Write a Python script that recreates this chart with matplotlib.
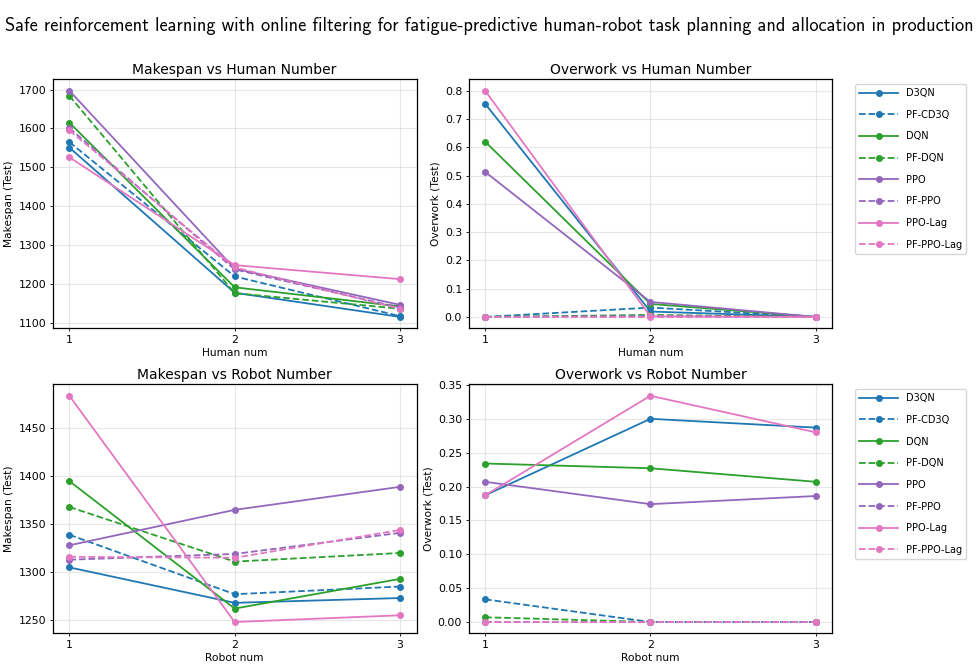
import matplotlib
matplotlib.use("Agg")
import matplotlib.pyplot as plt

# method names, colours, styles
methods = ["D3QN", "PF-CD3Q", "DQN", "PF-DQN", "PPO", "PF-PPO", "PPO-Lag", "PF-PPO-Lag"]
colors = ["tab:blue", "tab:blue", "tab:green", "tab:green",
          "tab:purple", "tab:purple", "tab:pink", "tab:pink"]
styles = ["-", "--", "-", "--", "-", "--", "-", "--"]

x_vals = [1, 2, 3]

# Makespan vs human number
makespan_human = {
    "D3QN":       [1551, 1178, 1116],
    "PF-CD3Q":    [1565, 1220, 1118],
    "DQN":        [1615, 1192, 1143],
    "PF-DQN":     [1684, 1177, 1137],
    "PPO":        [1697, 1240, 1147],
    "PF-PPO":     [1601, 1238, 1140],
    "PPO-Lag":    [1526, 1249, 1213],
    "PF-PPO-Lag": [1595, 1243, 1137],
}

# Overwork vs human number
overwork_human = {
    "D3QN":       [0.754, 0.019, 0.0],
    "PF-CD3Q":    [0.0, 0.033, 0.0],
    "DQN":        [0.620, 0.046, 0.0],
    "PF-DQN":     [0.0, 0.007, 0.0],
    "PPO":        [0.513, 0.053, 0.0],
    "PF-PPO":     [0.0, 0.003, 0.0],
    "PPO-Lag":    [0.800, 0.002, 0.0],
    "PF-PPO-Lag": [0.0, 0.0, 0.0],
}

# Makespan vs robot number
makespan_robot = {
    "D3QN":       [1305, 1268, 1273],
    "PF-CD3Q":    [1339, 1277, 1285],
    "DQN":        [1395, 1262, 1293],
    "PF-DQN":     [1368, 1311, 1320],
    "PPO":        [1328, 1365, 1389],
    "PF-PPO":     [1313, 1319, 1341],
    "PPO-Lag":    [1484, 1248, 1255],
    "PF-PPO-Lag": [1316, 1315, 1344],
}

# Overwork vs robot number
overwork_robot = {
    "D3QN":       [0.187, 0.300, 0.287],
    "PF-CD3Q":    [0.0335, 0.0, 0.0],
    "DQN":        [0.234, 0.227, 0.207],
    "PF-DQN":     [0.007, 0.0, 0.0],
    "PPO":        [0.207, 0.174, 0.186],
    "PF-PPO":     [0.0, 0.0, 0.0],
    "PPO-Lag":    [0.187, 0.334, 0.280],
    "PF-PPO-Lag": [0.0, 0.0, 0.0],
}

fig, axes = plt.subplots(2, 2, figsize=(9.78, 6.67), dpi=100)
fig.subplots_adjust(left=0.054, right=0.851, top=0.881, bottom=0.0505,
                    wspace=0.143, hspace=0.226)

panels = [
    (axes[0, 0], makespan_human, "Makespan vs Human Number", "Human num", "Makespan (Test)"),
    (axes[0, 1], overwork_human, "Overwork vs Human Number", "Human num", "Overwork (Test)"),
    (axes[1, 0], makespan_robot, "Makespan vs Robot Number", "Robot num", "Makespan (Test)"),
    (axes[1, 1], overwork_robot, "Overwork vs Robot Number", "Robot num", "Overwork (Test)"),
]

for ax, data, title, xlabel, ylabel in panels:
    for name, c, ls in zip(methods, colors, styles):
        ax.plot(x_vals, data[name], linestyle=ls, color=c, marker="o",
                markersize=4, linewidth=1.3, label=name)
    ax.set_title(title, fontsize=10, pad=4)
    ax.set_xlabel(xlabel, fontsize=7.7, labelpad=2.5)
    ax.set_ylabel(ylabel, fontsize=7.7, labelpad=3)
    ax.set_xticks(x_vals)
    ax.tick_params(axis="both", labelsize=7.8, length=2.5, width=0.6, pad=2.2)
    for sp in ax.spines.values():
        sp.set_linewidth(0.9)
    ax.grid(True, alpha=0.3)

# legends next to the right-hand panels
for ax in [axes[0, 1], axes[1, 1]]:
    ax.legend(loc="upper left", bbox_to_anchor=(1.05, 1), fontsize=7,
              handlelength=4, labelspacing=1.2)

fig.suptitle("Safe reinforcement learning with online filtering for fatigue-predictive "
             "human-robot task planning and allocation in production",
             fontsize=13.2, family="cmss10", y=0.975)

plt.savefig("out.png", dpi=100)
